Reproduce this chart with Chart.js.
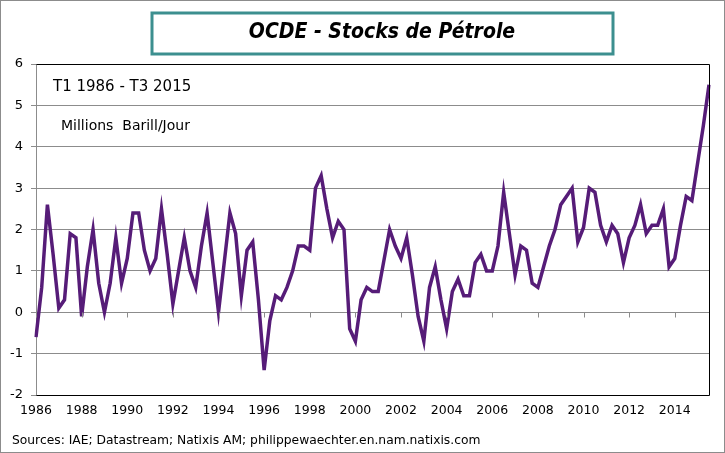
<!DOCTYPE html>
<html>
<head>
<meta charset="utf-8">
<script src="https://cdn.jsdelivr.net/npm/chart.js@4.4.1/dist/chart.umd.min.js"></script>
<style>
  html, body { margin: 0; padding: 0; background: #fff; }
  #wrap { width: 725px; height: 453px; position: relative; }
</style>
</head>
<body>
<div id="wrap"><canvas id="stockChart"></canvas></div>
<script>
// Trimestres T1 1986 -> T3 2015
const years = [1986, 1987, 1988, 1989, 1990, 1991, 1992, 1993, 1994, 1995,
               1996, 1997, 1998, 1999, 2000, 2001, 2002, 2003, 2004, 2005,
               2006, 2007, 2008, 2009, 2010, 2011, 2012, 2013, 2014, 2015];
const quarters = ['T1', 'T2', 'T3', 'T4'];

// Stocks OCDE, millions de barils / jour
const stocks = [
    -0.6, 0.6, 2.6, 1.4,    // 1986
    0.1, 0.3, 1.9, 1.8,     // 1987
    -0.1, 1.1, 2.0, 0.7,    // 1988
    0.0, 0.7, 1.8, 0.7,     // 1989
    1.3, 2.4, 2.4, 1.5,     // 1990
    1.0, 1.3, 2.5, 1.4,     // 1991
    0.2, 1.0, 1.8, 1.0,     // 1992
    0.6, 1.6, 2.4, 1.2,     // 1993
    0.0, 1.2, 2.4, 1.9,     // 1994
    0.4, 1.5, 1.7, 0.3,     // 1995
    -1.4, -0.2, 0.4, 0.3,   // 1996
    0.6, 1.0, 1.6, 1.6,     // 1997
    1.5, 3.0, 3.3, 2.5,     // 1998
    1.8, 2.2, 2.0, -0.4,    // 1999
    -0.7, 0.3, 0.6, 0.5,    // 2000
    0.5, 1.25, 2.0, 1.6,    // 2001
    1.3, 1.8, 0.9, -0.1,    // 2002
    -0.7, 0.6, 1.1, 0.3,    // 2003
    -0.4, 0.5, 0.8, 0.4,    // 2004
    0.4, 1.2, 1.4, 1.0,     // 2005
    1.0, 1.6, 2.9, 1.9,     // 2006
    0.9, 1.6, 1.5, 0.7,     // 2007
    0.6, 1.1, 1.6, 2.0,     // 2008
    2.6, 2.8, 3.0, 1.7,     // 2009
    2.05, 3.0, 2.9, 2.1,    // 2010
    1.7, 2.1, 1.9, 1.2,     // 2011
    1.8, 2.1, 2.6, 1.9,     // 2012
    2.1, 2.1, 2.5, 1.1,     // 2013
    1.3, 2.1, 2.8, 2.7,     // 2014
    3.6, 4.5, 5.5           // 2015 (T1-T3)
];

// annees affichees sur l'axe x
const yearTicks = ['1986', '1988', '1990', '1992', '1994', '1996', '1998', '2000',
                   '2002', '2004', '2006', '2008', '2010', '2012', '2014'];

const labels = [];
years.forEach(y => quarters.forEach(q => labels.push(q + ' ' + y)));
labels.length = stocks.length;

const titleText = 'OCDE - Stocks de Pétrole';
const periodText = 'T1 1986 - T3 2015';
const unitText = 'Millions  Barill/Jour';
const sourceText = 'Sources: IAE; Datastream; Natixis AM; philippewaechter.en.nam.natixis.com';

function yearOf(i) {
    const l = labels[i];
    return l ? l.split(' ')[1] : '';
}
function isYearTick(i) {
    return labels[i] && labels[i].startsWith('T1') && yearTicks.includes(yearOf(i));
}

// cadre, titre, textes et petits traits sur l'axe 0
const decorations = {
    id: 'decorations',
    beforeDraw(chart) {
        const ctx = chart.ctx;
        ctx.save();
        ctx.fillStyle = '#fff';
        ctx.fillRect(0, 0, chart.width, chart.height);
        ctx.strokeStyle = '#8c8c8c';
        ctx.lineWidth = 1;
        ctx.strokeRect(0.5, 0.5, chart.width - 1, chart.height - 1);
        ctx.restore();
    },
    afterDraw(chart) {
        const ctx = chart.ctx;
        const area = chart.chartArea;
        const xs = chart.scales.x;
        const ys = chart.scales.y;
        ctx.save();

        // cadre noir de la zone de tracé (haut, droite, bas)
        ctx.strokeStyle = '#000';
        ctx.lineWidth = 1;
        ctx.beginPath();
        ctx.moveTo(Math.round(area.left) + 0.5, Math.round(area.top) + 0.5);
        ctx.lineTo(Math.round(area.right) + 0.5, Math.round(area.top) + 0.5);
        ctx.lineTo(Math.round(area.right) + 0.5, Math.round(area.bottom) + 0.5);
        ctx.lineTo(Math.round(area.left) + 0.5, Math.round(area.bottom) + 0.5);
        ctx.stroke();

        // traits de graduation sur la ligne 0
        const y0 = Math.round(ys.getPixelForValue(0)) + 0.5;
        ctx.strokeStyle = '#8c8c8c';
        ctx.beginPath();
        for (let i = 0; i < labels.length; i++) {
            if (!isYearTick(i)) continue;
            const x = Math.round(xs.getPixelForValue(i)) + 0.5;
            ctx.moveTo(x, y0);
            ctx.lineTo(x, y0 + 5);
        }
        ctx.stroke();

        // boîte de titre
        ctx.strokeStyle = '#3c8f8f';
        ctx.lineWidth = 3;
        ctx.strokeRect(152, 13, 461, 41);
        ctx.fillStyle = '#000';
        ctx.font = 'italic bold 21px "DejaVu Sans Condensed"';
        ctx.textAlign = 'center';
        ctx.textBaseline = 'middle';
        ctx.fillText(titleText, 382, 33);

        // annotations
        ctx.textAlign = 'left';
        ctx.font = '15px "DejaVu Sans"';
        ctx.fillText(periodText, 53, 87);
        ctx.font = '14px "DejaVu Sans"';
        ctx.fillText(unitText, 61, 126);

        // source
        ctx.font = '12.3px "DejaVu Sans"';
        ctx.fillText(sourceText, 12, 441);
        ctx.restore();
    }
};

new Chart(document.getElementById('stockChart'), {
    type: 'line',
    data: {
        labels: labels,
        datasets: [{
            data: stocks,
            borderColor: '#561c78',
            borderWidth: 3.5,
            pointRadius: 0,
            tension: 0,
            fill: false
        }]
    },
    options: {
        responsive: true,
        maintainAspectRatio: false,
        animation: false,
        layout: { padding: { top: 64, right: 16, left: 0, bottom: 0 } },
        plugins: {
            legend: { display: false },
            tooltip: { enabled: false }
        },
        scales: {
            x: {
                type: 'category',
                offset: false,
                grid: { display: false, drawTicks: false },
                border: { display: false },
                ticks: {
                    autoSkip: false,
                    maxRotation: 0,
                    minRotation: 0,
                    padding: 8,
                    color: '#000',
                    font: { family: 'DejaVu Sans', size: 12.5 },
                    callback: (v, i) => isYearTick(i) ? yearOf(i) : ''
                },
                afterFit: (s) => { s.height = 58; }
            },
            y: {
                min: -2,
                max: 6,
                ticks: {
                    stepSize: 1,
                    padding: 8,
                    color: '#000',
                    font: { family: 'DejaVu Sans', size: 13 }
                },
                grid: { color: '#8c8c8c', lineWidth: 1, tickLength: 5 },
                border: { color: '#8c8c8c' },
                afterFit: (s) => { s.width = 36; }
            }
        }
    },
    plugins: [decorations]
});
</script>
</body>
</html>
